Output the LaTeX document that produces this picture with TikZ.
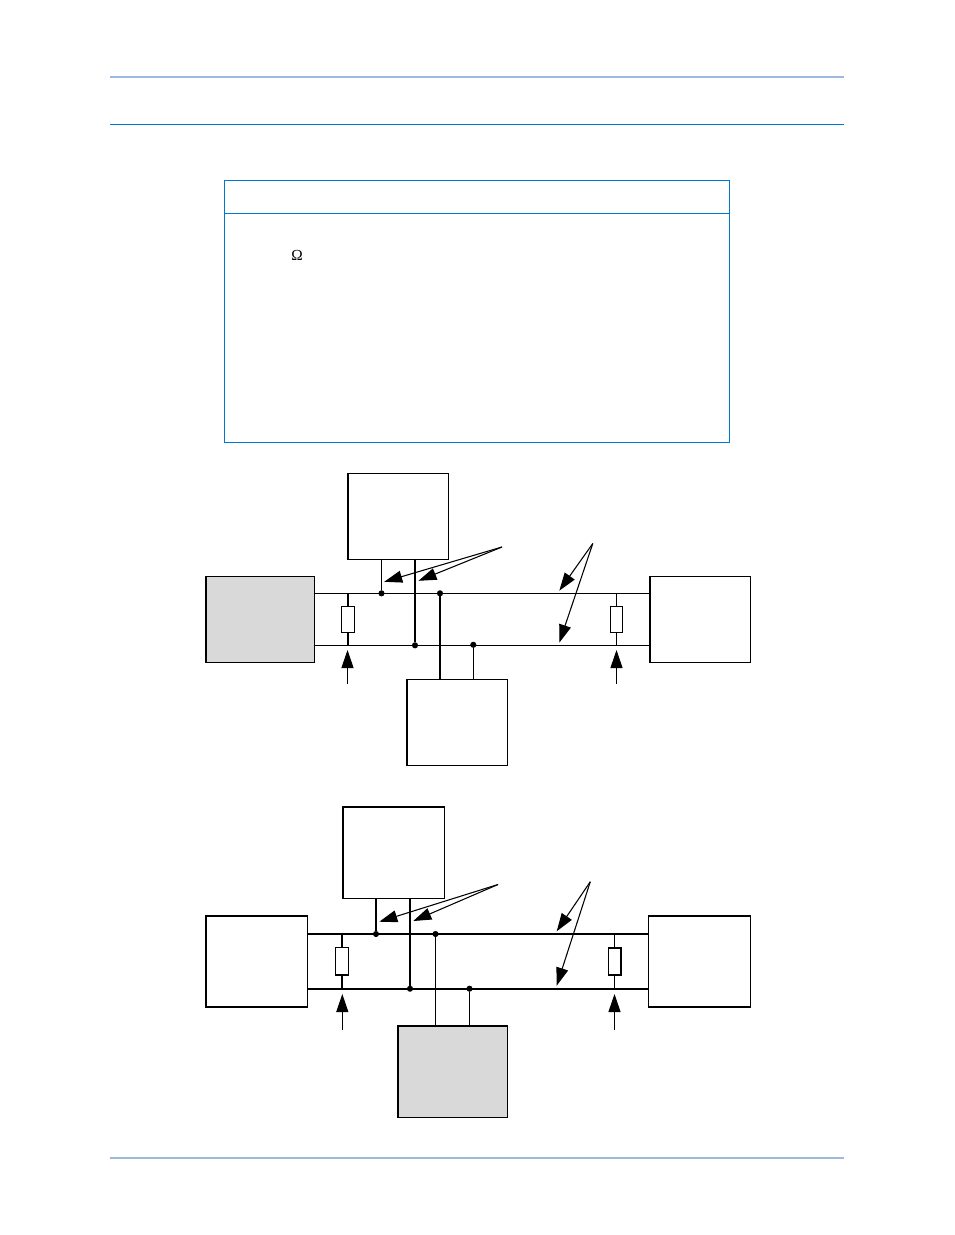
\documentclass[tikz,border=0pt]{standalone}
\usepackage{fontspec}
\setmainfont{Liberation Serif}
\usetikzlibrary{arrows.meta}
\definecolor{rulelight}{HTML}{9DB9DD}
\definecolor{ruleblue}{HTML}{0078D2}
\definecolor{boxgrey}{HTML}{D9D9D9}
\tikzset{
  x=0.75pt,y=-0.75pt,
  blockthin/.style={draw=black,line width=0.85pt,inner sep=0pt,outer sep=0pt,anchor=north west},
  blockthick/.style={draw=black,line width=1.15pt,inner sep=0pt,outer sep=0pt,anchor=north west},
  filled/.style={fill=boxgrey},
  res/.style={draw=black,fill=white,inner sep=0pt,outer sep=0pt},
  dotnode/.style={circle,fill=black,inner sep=0pt,minimum size=4.6pt,outer sep=0pt},
  thinw/.style={line width=0.75pt},
  medw/.style={line width=1.2pt},
  busw/.style={line width=1.4pt},
  pointer/.style={line width=0.8pt,-{Triangle[length=13.5pt,width=9pt]}},
}
\begin{document}
\begin{tikzpicture}
\useasboundingbox (0,0) rectangle (954,1235);
% page rules
\coordinate (r1a) at (110,77); \coordinate (r1b) at (844,77);
\coordinate (r2a) at (110,124.5); \coordinate (r2b) at (844,124.5);
\coordinate (r3a) at (110,1158); \coordinate (r3b) at (844,1158);
\draw[rulelight,line width=1.3pt] (r1a) -- (r1b);
\draw[ruleblue,line width=0.85pt] (r2a) -- (r2b);
\draw[rulelight,line width=1.3pt] (r3a) -- (r3b);
% table
\node[draw=ruleblue,line width=0.75pt,inner sep=0pt,outer sep=0pt,anchor=north west,minimum width=378.75pt,minimum height=196.1pt] (tbl) at (224.5,180.7) {};
\coordinate (tl) at (224.5,213.5); \coordinate (tr) at (729.5,213.5);
\draw[ruleblue,line width=0.75pt] (tl) -- (tr);
\node[inner sep=0pt,font=\fontsize{11.5pt}{13pt}\selectfont] (omega) at (297,255) {Ω};

% ===== upper diagram =====
\node[blockthin,filled,minimum width=81.2pt,minimum height=64.6pt] (ua) at (206,576.7) {};
\node[blockthin,minimum width=75.2pt,minimum height=64.4pt] (ub) at (348,473.8) {};
\node[blockthin,minimum width=75.2pt,minimum height=64.4pt] (uc) at (407,679.6) {};
\node[blockthin,minimum width=75.2pt,minimum height=64.4pt] (ud) at (650,576.7) {};
\coordinate (ut1) at (314.3,593.3); \coordinate (ut2) at (650,593.3);
\coordinate (ub1) at (314.3,645.3); \coordinate (ub2) at (650,645.3);
\draw[thinw] (ut1) -- (ut2);
\draw[thinw] (ub1) -- (ub2);
\node[dotnode] (ud1) at (381.5,593.3) {};
\node[dotnode] (ud2) at (415,645.3) {};
\node[dotnode] (ud3) at (440,593.3) {};
\node[dotnode] (ud4) at (473.3,644.8) {};
\draw[thinw] (ud1) -- (ud1|-ub.south);
\draw[medw] (ud2) -- (ud2|-ub.south);
\draw[medw] (ud3) -- (ud3|-uc.north);
\draw[thinw] (ud4) -- (ud4|-uc.north);
% terminators
\coordinate (ur1t) at (347.7,593.3); \coordinate (ur1b) at (347.7,645.3);
\coordinate (ur2t) at (616.5,593.3); \coordinate (ur2b) at (616.5,645.3);
\draw[medw] (ur1t) -- (ur1b);
\draw[thinw] (ur2t) -- (ur2b);
\node[res,line width=0.7pt,minimum width=9.7pt,minimum height=19.5pt] (ur1) at (347.7,619.3) {};
\node[res,line width=0.7pt,minimum width=9.2pt,minimum height=19.5pt] (ur2) at (616.5,619.3) {};
% pointers
\coordinate (up1) at (502,547);
\coordinate (up1a) at (384.2,581.8); \coordinate (up1b) at (418.5,580.8);
\draw[pointer] (up1) -- (up1a);
\draw[pointer] (up1) -- (up1b);
\coordinate (up2) at (592.8,543.5);
\coordinate (up2a) at (559.3,590.7); \coordinate (up2b) at (559.3,642.7);
\draw[pointer] (up2) -- (up2a);
\draw[pointer] (up2) -- (up2b);
\coordinate (up3) at (347.5,684); \coordinate (up3a) at (347.5,650);
\coordinate (up4) at (616.5,684); \coordinate (up4a) at (616.5,650);
\draw[pointer] (up3) -- (up3a);
\draw[pointer] (up4) -- (up4a);

% ===== lower diagram =====
\node[blockthick,minimum width=76.2pt,minimum height=68.1pt] (la) at (205.9,916) {};
\node[blockthick,minimum width=76.2pt,minimum height=68.3pt] (lb) at (342.8,807.2) {};
\node[blockthick,filled,minimum width=82.2pt,minimum height=68.6pt] (lc) at (397.8,1025.8) {};
\node[blockthick,minimum width=76.5pt,minimum height=68.1pt] (ld) at (648.5,916) {};
\coordinate (lt1) at (307.5,934); \coordinate (lt2) at (648.5,934);
\coordinate (lb1) at (307.5,988.7); \coordinate (lb2) at (648.5,988.7);
\draw[busw] (lt1) -- (lt2);
\draw[busw] (lb1) -- (lb2);
\node[dotnode] (ld1) at (376,934) {};
\node[dotnode] (ld2) at (410,988.7) {};
\node[dotnode] (ld3) at (435.5,934) {};
\node[dotnode] (ld4) at (469.5,988.7) {};
\draw[medw] (ld1) -- (ld1|-lb.south);
\draw[medw] (ld2) -- (ld2|-lb.south);
\draw[thinw] (ld3) -- (ld3|-lc.north);
\draw[thinw] (ld4) -- (ld4|-lc.north);
\coordinate (lr1t) at (342,934); \coordinate (lr1b) at (342,988.7);
\coordinate (lr2t) at (614.7,934); \coordinate (lr2b) at (614.7,988.7);
\draw[medw] (lr1t) -- (lr1b);
\draw[thinw] (lr2t) -- (lr2b);
\node[res,line width=0.85pt,minimum width=9.6pt,minimum height=20.6pt] (lr1) at (342,961.3) {};
\node[res,line width=1.15pt,minimum width=9.6pt,minimum height=20.6pt] (lr2) at (614.8,961.5) {};
\coordinate (lp1) at (498,884.5);
\coordinate (lp1a) at (379.3,921.7); \coordinate (lp1b) at (413.3,921);
\draw[pointer] (lp1) -- (lp1a);
\draw[pointer] (lp1) -- (lp1b);
\coordinate (lp2) at (590.3,881.7);
\coordinate (lp2a) at (556.7,931.3); \coordinate (lp2b) at (556.7,985.7);
\draw[pointer] (lp2) -- (lp2a);
\draw[pointer] (lp2) -- (lp2b);
\coordinate (lp3) at (342.3,1030); \coordinate (lp3a) at (342.3,994);
\coordinate (lp4) at (614.5,1030); \coordinate (lp4a) at (614.5,994);
\draw[pointer] (lp3) -- (lp3a);
\draw[pointer] (lp4) -- (lp4a);
\end{tikzpicture}
\end{document}
